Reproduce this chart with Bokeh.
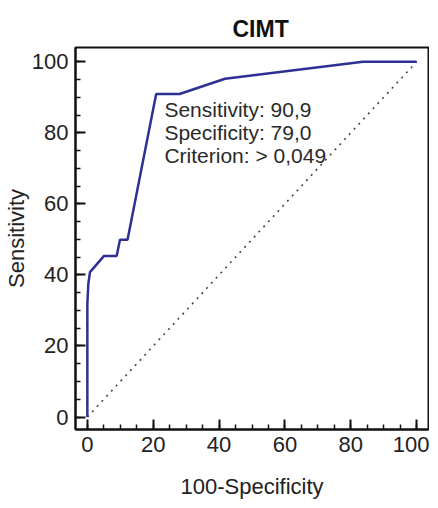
from bokeh.plotting import figure
from bokeh.models import SingleIntervalTicker, Range1d
from bokeh.embed import file_html
from bokeh.resources import INLINE
from bokeh.core.properties import value

# ROC curve points (100-Specificity, Sensitivity)
fpr = [0, 0, 0.3, 0.8, 5.0, 8.9, 9.9, 12.2, 20.9, 28.0, 41.8, 83.7, 100]
tpr = [0, 31.9, 37.5, 40.8, 45.3, 45.3, 49.9, 49.9, 90.9, 90.9, 95.2, 100, 100]
diag_x = [0, 100]
diag_y = [0, 100]
annot_lines = ["Sensitivity: 90,9", "Specificity: 79,0", "Criterion: > 0,049"]

FONT = "Liberation Sans"

p = figure(frame_width=353, frame_height=382, output_backend="svg", toolbar_location=None,
           x_range=Range1d(-3.6, 103.6), y_range=Range1d(-3.5, 104),
           min_border_left=68, min_border_right=1, min_border_top=47, min_border_bottom=0)

p.title.text = "CIMT"
p.title.text_font = FONT
p.title.text_font_size = "23px"
p.title.text_font_style = "bold"
p.title.align = "left"
p.title.offset = 157
p.title.standoff = 11
p.title.text_color = "#111111"

p.grid.visible = False
p.background_fill_color = "white"
p.border_fill_color = "white"
p.outline_line_color = "#111111"
p.outline_line_width = 2

for ax in (p.xaxis, p.yaxis):
    ax.ticker = SingleIntervalTicker(interval=20, num_minor_ticks=4)
    ax.axis_line_width = 2
    ax.axis_line_color = "#111111"
    ax.major_tick_in = 10
    ax.major_tick_out = 0
    ax.minor_tick_in = 5
    ax.minor_tick_out = 0
    ax.major_tick_line_width = 2
    ax.minor_tick_line_width = 1.5
    ax.major_tick_line_color = "#111111"
    ax.minor_tick_line_color = "#111111"
    ax.major_label_text_font = FONT
    ax.major_label_text_font_size = "22px"
    ax.major_label_text_color = "#222222"
    ax.axis_label_text_font = FONT
    ax.axis_label_text_font_size = "22px"
    ax.axis_label_text_font_style = "normal"
    ax.axis_label_text_color = "#222222"

p.xaxis.axis_label = "100-Specificity"
p.yaxis.axis_label = "Sensitivity"
p.xaxis.major_label_standoff = 7
p.xaxis.axis_label_standoff = 19
p.yaxis.major_label_standoff = 7
p.yaxis.axis_label_standoff = 0

p.line(diag_x, diag_y, line_color="#444444", line_width=1.6, line_dash="2 5")
p.line(fpr, tpr, line_color="#2e3192", line_width=2.5)

p.text(x=[23.4], y=[89.8], text=["\n".join(annot_lines)],
       text_font=value(FONT), text_font_size="21px", text_color="#2a2a2a",
       text_baseline="top", text_align="left", text_line_height=1.0)

open("out.html", "w").write(file_html(p, INLINE))
